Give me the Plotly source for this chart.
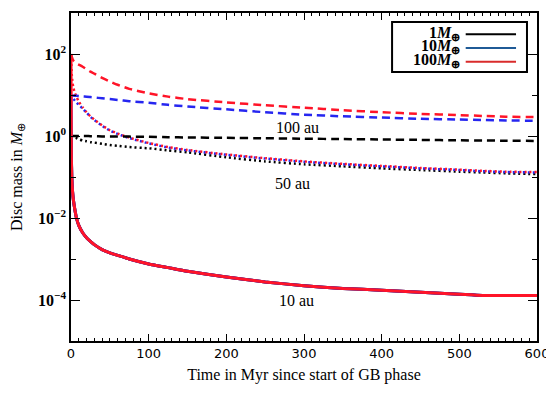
import plotly.graph_objects as go

# time in Myr
t = [0, 0.5, 1, 2, 3, 5, 7, 10, 15, 20, 25, 30, 40, 50, 60, 75, 100, 125, 150,
     200, 250, 300, 350, 400, 450, 500, 530, 560, 600]

# log10 of disc mass (Earth masses)
# 10 au (solid) - the three masses end up on the same track
solid_100 = [2.0, -0.5, -1.0, -1.35, -1.55, -1.8, -2.0, -2.18, -2.36, -2.48, -2.57, -2.65, -2.77, -2.85,
             -2.91, -3.0, -3.12, -3.21, -3.3, -3.44, -3.56, -3.65, -3.72, -3.76, -3.81, -3.86, -3.89, -3.89, -3.89]
solid_10 = [1.0, -0.5, -1.0, -1.35, -1.55, -1.8, -2.0, -2.18, -2.36, -2.48, -2.57, -2.65, -2.77, -2.85,
            -2.91, -3.0, -3.12, -3.21, -3.3, -3.44, -3.56, -3.65, -3.72, -3.76, -3.81, -3.86, -3.89, -3.89, -3.89]
solid_1 = [0.0, -0.5, -1.0, -1.35, -1.55, -1.8, -2.0, -2.18, -2.36, -2.48, -2.57, -2.65, -2.77, -2.85,
           -2.91, -3.0, -3.12, -3.21, -3.3, -3.44, -3.56, -3.65, -3.72, -3.76, -3.81, -3.86, -3.89, -3.89, -3.89]

# 100 au (dashed)
dash_100 = [2.0, 1.96, 1.93, 1.88, 1.84, 1.8, 1.77, 1.74, 1.69, 1.63, 1.57, 1.52, 1.42, 1.33, 1.25, 1.15,
            1.04, 0.96, 0.9, 0.82, 0.75, 0.69, 0.63, 0.58, 0.54, 0.51, 0.49, 0.47, 0.46]
dash_10 = [1.0, 0.995, 0.99, 0.99, 0.985, 0.98, 0.98, 0.975, 0.965, 0.96, 0.95, 0.94, 0.92, 0.9, 0.88, 0.85,
           0.81, 0.76, 0.72, 0.65, 0.58, 0.52, 0.48, 0.45, 0.42, 0.4, 0.39, 0.38, 0.37]
dash_1 = [0.0, 0.0, 0.0, 0.0, 0.0, 0.0, 0.0, 0.0, 0.0, 0.0, -0.005, -0.005, -0.01, -0.01, -0.01, -0.015,
          -0.02, -0.03, -0.035, -0.045, -0.055, -0.065, -0.075, -0.085, -0.095, -0.105, -0.11, -0.115, -0.12]

# 50 au (dotted)
dot_100 = [2.0, 1.7, 1.5, 1.3, 1.18, 1.05, 0.96, 0.84, 0.7, 0.58, 0.48, 0.4, 0.26, 0.14, 0.06, -0.04, -0.17,
           -0.27, -0.34, -0.45, -0.54, -0.62, -0.68, -0.73, -0.78, -0.82, -0.85, -0.87, -0.88]
dot_10 = [1.0, 0.98, 0.97, 0.94, 0.91, 0.86, 0.82, 0.76, 0.67, 0.57, 0.47, 0.39, 0.25, 0.13, 0.05, -0.05, -0.18,
          -0.28, -0.35, -0.46, -0.55, -0.63, -0.69, -0.74, -0.79, -0.83, -0.86, -0.88, -0.89]
dot_1 = [0.0, -0.005, -0.01, -0.02, -0.025, -0.04, -0.05, -0.08, -0.11, -0.13, -0.15, -0.16, -0.19, -0.22,
         -0.24, -0.27, -0.3, -0.35, -0.4, -0.52, -0.62, -0.69, -0.74, -0.79, -0.83, -0.87, -0.89, -0.91, -0.93]

y_ticks = [1e-4, 1e-2, 1e0, 1e2]
y_labels = ["<b>10<sup>−4</sup></b>", "<b>10<sup>−2</sup></b>", "<b>10<sup>0</sup></b>", "<b>10<sup>2</sup></b>"]
x_ticks = [0, 100, 200, 300, 400, 500, 600]

RED = "#ff1428"
BLUE = "#2626f0"
BLACK = "#000000"
SERIF = "Liberation Serif"


def to_mass(vals):
    return [10 ** v for v in vals]


fig = go.Figure()

series = [
    (dot_1, BLACK, "2px,3px", 2.5), (dot_10, BLUE, "2px,3px", 2.5), (dot_100, RED, "2px,3px", 2.5),
    (dash_1, BLACK, "8px,5px", 2.5), (dash_10, BLUE, "8px,5px", 2.5), (dash_100, RED, "8px,5px", 2.5),
    (solid_1, BLACK, "solid", 3), (solid_10, BLUE, "solid", 3), (solid_100, RED, "solid", 3),
]
for vals, col, ds, w in series:
    fig.add_trace(go.Scatter(x=t, y=to_mass(vals), mode="lines",
                             line=dict(color=col, dash=ds, width=w, shape="spline", smoothing=0.5),
                             showlegend=False, hoverinfo="skip"))

# curve labels (y given as log10 for a log axis)
for txt, xx, yy in [("100 au", 292, 0.2), ("50 au", 285, -1.17), ("10 au", 290, -4.0)]:
    fig.add_annotation(x=xx, y=yy, xref="x", yref="y", text=txt, showarrow=False,
                       font=dict(family=SERIF, size=16, color="black"), yanchor="middle")

# hand-made legend (text left of line sample, as in the original)
fig.add_shape(type="rect", xref="paper", yref="paper", x0=0.689, x1=0.9785, y0=0.82, y1=0.9726,
              line=dict(color="black", width=2), fillcolor="white", layer="above")
leg = [("<b>1<i>M</i><sub>⊕</sub></b>", "#000000", 0.935),
       ("<b>10<i>M</i><sub>⊕</sub></b>", "#1f5a96", 0.893),
       ("<b>100<i>M</i><sub>⊕</sub></b>", "#d92b2b", 0.851)]
for txt, col, yy in leg:
    fig.add_annotation(xref="paper", yref="paper", x=0.84, y=yy + 0.004, text=txt, showarrow=False,
                       xanchor="right", yanchor="middle", font=dict(family=SERIF, size=16, color="black"))
    fig.add_shape(type="line", xref="paper", yref="paper", x0=0.847, x1=0.955, y0=yy, y1=yy,
                  line=dict(color=col, width=2), layer="above")

fig.update_xaxes(range=[0, 600], tickvals=x_ticks, ticks="inside", ticklen=7, tickwidth=1,
                 tickcolor="black", minor=dict(dtick=10, ticks="inside", ticklen=3, tickcolor="black"),
                 showline=True, linecolor="black", linewidth=1.5, mirror="allticks",
                 showgrid=False, zeroline=False, automargin=False,
                 tickfont=dict(family="DejaVu Sans", size=13, color="black"),
                 title=dict(text="Time in Myr since start of GB phase", standoff=8,
                            font=dict(family=SERIF, size=16, color="black")))
fig.update_yaxes(type="log", range=[-5, 3], tickvals=y_ticks, ticktext=y_labels, ticks="inside",
                 ticklen=9, tickwidth=1, tickcolor="black",
                 minor=dict(tickvals=[1e-5, 1e-3, 1e-1, 1e1, 1e3], ticks="inside", ticklen=5, tickcolor="black"),
                 showline=True, linecolor="black", linewidth=1.5, mirror="allticks",
                 showgrid=False, zeroline=False, automargin=False,
                 tickfont=dict(family=SERIF, size=16, color="black"),
                 title=dict(text="Disc mass in <i>M</i><sub>⊕</sub>", standoff=12,
                            font=dict(family=SERIF, size=16, color="black")))

# the page adds an 8px body margin, so the figure is 8px smaller on each side
fig.update_layout(width=546, height=385, margin=dict(l=63, r=17, t=5, b=52),
                  paper_bgcolor="white", plot_bgcolor="white")

fig.write_html("out.html")
